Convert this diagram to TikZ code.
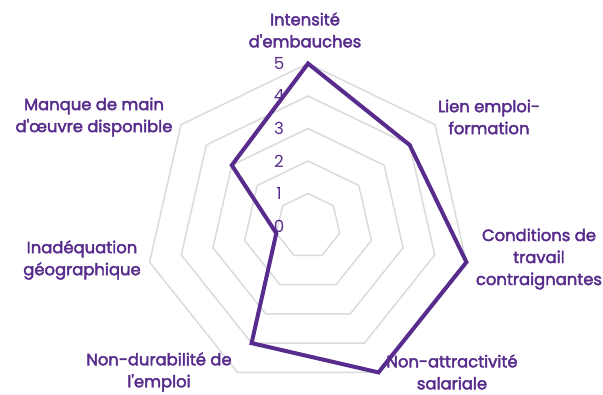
\documentclass[tikz,border=0pt]{standalone}
\usepackage{fontspec}
\setmainfont{Poppins}[Ligatures=TeXOff]
\newfontfamily\labelfont{Poppins}[Ligatures=TeXOff, FakeBold=2.6]
\usetikzlibrary{positioning}
\definecolor{radarpurple}{RGB}{88,44,140}
\definecolor{gridgray}{RGB}{218,218,218}
\tikzset{
	axislabel/.style={
		text=radarpurple,
		align=center,
		inner sep=0pt,
		font=\labelfont\fontsize{12.3}{16.5}\selectfont
	},
	ticklabel/.style={
		text=radarpurple,
		inner sep=0pt,
		font=\fontsize{12.5}{14}\selectfont
	},
	gridline/.style={draw=gridgray, line width=1.1pt},
	dataline/.style={draw=radarpurple, line width=3pt, line join=miter}
}

\begin{document}
\begin{tikzpicture}[x=0.75pt,y=0.75pt]
	\useasboundingbox (0,0) rectangle (603,394);
	\coordinate (O) at (308,168);
	
	% heptagon grid
	\begin{scope}[shift={(O)}]
		\foreach \r in {1,...,5}
			\draw[gridline] (90:\r*32.5) \foreach \k in {1,...,6}{ -- ({90-\k*360/7}:\r*32.5)} -- cycle;
		
		\coordinate (embauches) at (90:5*32.5);
		\coordinate (lien) at ({90-1*360/7}:4*32.5);
		\coordinate (conditions) at ({90-2*360/7}:5*32.5);
		\coordinate (salaire) at ({90-3*360/7}:5*32.5);
		\coordinate (durabilite) at ({90-4*360/7}:4*32.5);
		\coordinate (geo) at ({90-5*360/7}:1*32.5);
		\coordinate (mainoeuvre) at ({90-6*360/7}:3*32.5);
	\end{scope}
	
	\foreach \v in {0,...,5}
		\node[ticklabel] (tick\v) at (279,168+\v*32.5) {\v};
	
	\draw[dataline] (embauches) -- (lien) -- (conditions) -- (salaire) -- (durabilite) -- (geo) -- (mainoeuvre) -- cycle;
	
	\node[axislabel] (Lembauches) at (305,364) {Intensité\\d'embauches};
	\node[axislabel] (Llien) at (489,277) {Lien emploi-\\formation};
	\node[axislabel] (Lconditions) at (539,135) {Conditions de\\travail\\contraignantes};
	\node[axislabel] (Lsalaire) at (452,22) {Non-attractivité\\salariale};
	\node[axislabel] (Ldurabilite) at (159,22) {Non-durabilité de\\l'emploi};
	\node[axislabel] (Lgeo) at (82,134) {Inadéquation\\géographique};
	\node[axislabel] (Lmainoeuvre) at (94,277) {Manque de main\\d'œuvre disponible};
\end{tikzpicture}
\end{document}
